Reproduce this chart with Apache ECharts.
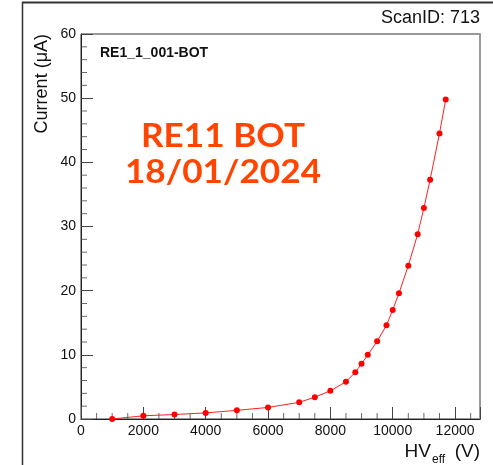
<!DOCTYPE html>
<html>
<head>
<meta charset="utf-8">
<script src="https://cdn.jsdelivr.net/npm/echarts@6/dist/echarts.min.js"></script>
<style>
html,body{margin:0;padding:0;background:#fff;}
#c{width:493px;height:465px;}
</style>
</head>
<body>
<div id="c"></div>
<script>
// Data
var hvEff = [1000, 2000, 3000, 4000, 5000, 6000, 7000, 7500, 8000, 8500, 8800, 9000, 9200, 9500, 9800, 10000, 10200, 10500, 10800, 11000, 11200, 11500, 11700];
var current = [0.0, 0.5, 0.7, 0.95, 1.35, 1.8, 2.6, 3.4, 4.4, 5.8, 7.3, 8.6, 10.0, 12.1, 14.6, 17.0, 19.6, 23.9, 28.8, 32.9, 37.3, 44.5, 49.8];
var xTickLabels = ['0', '2000', '4000', '6000', '8000', '10000', '12000'];
var yTickLabels = ['0', '10', '20', '30', '40', '50', '60'];
var xMinorTicks = [500, 1000, 1500, 2500, 3000, 3500, 4500, 5000, 5500, 6500, 7000, 7500, 8500, 9000, 9500, 10500, 11000, 11500, 12500];
var yMinorTicks = [2, 4, 6, 8, 12, 14, 16, 18, 22, 24, 26, 28, 32, 34, 36, 38, 42, 44, 46, 48, 52, 54, 56, 58];

var points = hvEff.map(function (v, i) { return [v, current[i]]; });
var labelFont = 'Liberation Sans';
var tickColor = '#444';

var chart = echarts.init(document.getElementById('c'), null, {renderer: 'canvas'});
chart.setOption({
  animation: false,
  backgroundColor: '#ffffff',
  grid: {left: 81, right: 13, top: 34, bottom: 46, show: true, borderColor: '#333', borderWidth: 1, backgroundColor: 'transparent'},
  xAxis: {
    type: 'value', min: 0, max: 12800, interval: 2000,
    axisLine: {show: true, onZero: false, lineStyle: {color: '#222', width: 1}},
    axisTick: {show: true, inside: true, length: 12, lineStyle: {color: tickColor}},
    splitLine: {show: false},
    axisLabel: {
      color: '#111', fontSize: 14, fontFamily: labelFont, margin: 5,
      formatter: function (v) { return xTickLabels.indexOf(String(v)) >= 0 ? String(v) : ''; }
    }
  },
  yAxis: [{
    type: 'value', min: 0, max: 60, interval: 10,
    axisLine: {show: true, onZero: false, lineStyle: {color: '#222', width: 1}},
    axisTick: {show: true, inside: true, length: 12, lineStyle: {color: tickColor}},
    splitLine: {show: false},
    axisLabel: {
      color: '#111', fontSize: 14, fontFamily: labelFont, margin: 5,
      formatter: function (v) { return yTickLabels.indexOf(String(v)) >= 0 ? String(v) : ''; }
    }
  }, {
    type: 'value', min: 0, max: 60, interval: 10, position: 'right',
    axisLine: {show: true, onZero: false, lineStyle: {color: '#999', width: 2}},
    axisTick: {show: false}, axisLabel: {show: false}, splitLine: {show: false}
  }],
  series: [{
    // minor ticks on the x axis
    type: 'scatter', silent: true, z: 3,
    data: xMinorTicks.map(function (v) { return [v, 0]; }),
    symbol: 'rect', symbolSize: [1, 6], symbolOffset: [0, -3],
    itemStyle: {color: tickColor}
  }, {
    // minor ticks on the y axis
    type: 'scatter', silent: true, z: 3,
    data: yMinorTicks.map(function (v) { return [0, v]; }),
    symbol: 'rect', symbolSize: [6, 1], symbolOffset: [3, 0],
    itemStyle: {color: tickColor}
  }, {
    type: 'line',
    data: points,
    symbol: 'circle', symbolSize: 6,
    itemStyle: {color: '#ff0000'},
    lineStyle: {color: '#ff2020', width: 1},
    z: 5
  }],
  graphic: [
    {type: 'line', shape: {x1: 22, y1: 2.5, x2: 493, y2: 2.5}, style: {stroke: '#333', lineWidth: 2}},
    {type: 'line', shape: {x1: 22.5, y1: 2, x2: 22.5, y2: 465}, style: {stroke: '#333', lineWidth: 1.5}},
    {type: 'text', x: 480, y: 27, style: {text: 'ScanID: 713', font: '18px "Liberation Sans"', fill: '#111', textAlign: 'right', textVerticalAlign: 'bottom'}},
    {type: 'text', x: 42, y: 34, rotation: Math.PI / 2, style: {text: 'Current (\u03bcA)', font: '18px "Liberation Sans"', fill: '#111', textAlign: 'right', textVerticalAlign: 'middle'}},
    {type: 'text', x: 480, y: 461, style: {text: '(V)', font: '19px "Liberation Sans"', fill: '#111', textAlign: 'right', textVerticalAlign: 'bottom'}},
    {type: 'text', x: 432, y: 466, style: {text: 'eff', font: '12px "Liberation Sans"', fill: '#111', textAlign: 'left', textVerticalAlign: 'bottom'}},
    {type: 'text', x: 431, y: 461, style: {text: 'HV', font: '19px "Liberation Sans"', fill: '#111', textAlign: 'right', textVerticalAlign: 'bottom'}},
    {type: 'text', x: 100, y: 60, style: {text: 'RE1_1_001-BOT', font: 'bold 14px "Liberation Sans"', fill: '#111', textAlign: 'left', textVerticalAlign: 'bottom'}},
    {type: 'text', x: 223, y: 153, scaleX: 1.1, style: {text: 'RE11 BOT', font: 'bold 32px Lato', fill: '#ff4500', textAlign: 'center', textVerticalAlign: 'bottom'}},
    {type: 'text', x: 223, y: 189, scaleX: 1.1, style: {text: '18/01/2024', font: 'bold 32px Lato', fill: '#ff4500', textAlign: 'center', textVerticalAlign: 'bottom'}}
  ]
});
</script>
</body>
</html>
